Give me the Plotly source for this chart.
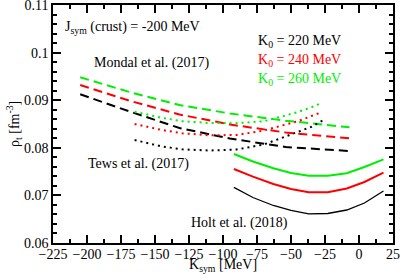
import plotly.graph_objects as go

# ---- data ----
k_mondal = [-205, -168, -132, -95, -54, -7]
mondal_220 = [0.09124, 0.08756, 0.08416, 0.08195, 0.08017, 0.07933]
mondal_240 = [0.09319, 0.08983, 0.08700, 0.08490, 0.08321, 0.08200]
mondal_260 = [0.09481, 0.09166, 0.08899, 0.08721, 0.08569, 0.08431]

k_tews = [-165, -145, -130, -110, -90, -70, -58, -45, -35, -28]
k_tews_220 = [-165, -145, -130, -110, -90, -70, -58, -45, -35, -26]
tews_220 = [0.08164, 0.08027, 0.07968, 0.07943, 0.07964, 0.08069, 0.08195, 0.08326, 0.08441, 0.08584]
tews_240 = [0.08500, 0.08374, 0.08305, 0.08263, 0.08269, 0.08363, 0.08458, 0.08557, 0.08668, 0.08742]
tews_260 = [0.08758, 0.08630, 0.08559, 0.08521, 0.08517, 0.08557, 0.08647, 0.08752, 0.08851, 0.08935]

k_holt = [-92, -78, -63, -50, -37, -23, -9, 4, 18]
holt_220 = [0.07170, 0.06956, 0.06788, 0.06683, 0.06613, 0.06620, 0.06693, 0.06840, 0.07092]
holt_240 = [0.07555, 0.07393, 0.07240, 0.07134, 0.07067, 0.07065, 0.07145, 0.07281, 0.07477]
holt_260 = [0.07870, 0.07712, 0.07569, 0.07471, 0.07414, 0.07414, 0.07464, 0.07597, 0.07758]

x_ticks = [-225, -200, -175, -150, -125, -100, -75, -50, -25, 0, 25]
y_ticks = [0.06, 0.07, 0.08, 0.09, 0.10, 0.11]
y_tick_text = ["0.06", "0.07", "0.08", "0.09", "0.1", "0.11"]

BLACK = "#000000"
RED = "#ff0000"
GREEN = "#00ee00"
FONT = "'Liberation Serif', 'Times New Roman', Times, 'DejaVu Serif', serif"

fig = go.Figure()

def add(x, y, color, dash, width):
    fig.add_trace(go.Scatter(x=x, y=y, mode="lines",
                             line=dict(color=color, dash=dash, width=width),
                             showlegend=False, hoverinfo="skip"))

add(k_mondal, mondal_220, BLACK, "9px,5px", 2)
add(k_mondal, mondal_240, RED, "9px,5px", 2)
add(k_mondal, mondal_260, GREEN, "9px,5px", 2)
add(k_tews_220, tews_220, BLACK, "2px,4px", 2)
add(k_tews, tews_240, RED, "2px,4px", 2)
add(k_tews, tews_260, GREEN, "2px,4px", 2)
add(k_holt, holt_220, BLACK, "solid", 1.3)
add(k_holt, holt_240, RED, "solid", 2)
add(k_holt, holt_260, GREEN, "solid", 2)

def note(x, y, text, color=BLACK):
    fig.add_annotation(x=x, y=y, text=text, showarrow=False, xref="x", yref="y",
                       xanchor="left", yanchor="middle",
                       font=dict(family=FONT, size=14, color=color))

note(-217.6, 0.1053, "J<sub>sym</sub> (crust) = -200 MeV")
note(-196.3, 0.0979, "Mondal et al. (2017)")
note(-200.7, 0.0766, "Tews et al. (2017)")
note(-125.0, 0.0642, "Holt et al. (2018)")
note(-75.7, 0.1023, "K<sub>0</sub> = 220 MeV", BLACK)
note(-75.7, 0.0983, "K<sub>0</sub> = 240 MeV", RED)
note(-75.7, 0.0943, "K<sub>0</sub> = 260 MeV", GREEN)

# axis titles as annotations for exact placement
fig.add_annotation(x=0.5, y=0, xref="paper", yref="paper", xanchor="center", yanchor="top",
                   yshift=-12, showarrow=False, text="K<sub>sym</sub> [MeV]",
                   font=dict(family=FONT, size=14, color="black"))
fig.add_annotation(x=0, y=0.5, xref="paper", yref="paper", xanchor="center", yanchor="middle",
                   xshift=-39, showarrow=False, textangle=-90,
                   text="ρ<sub>t</sub> [fm<sup>-3</sup>]",
                   font=dict(family=FONT, size=14, color="black"))

axis_common = dict(showline=True, linecolor="black", linewidth=1.5, mirror="ticks",
                   ticks="inside", ticklen=8, tickwidth=1.5, tickcolor="black",
                   showgrid=False, zeroline=False, automargin=False,
                   ticklabeloverflow="allow",
                   tickfont=dict(family=FONT, size=14, color="black"))

fig.update_xaxes(range=[-225, 25], tickvals=x_ticks, ticklabelstandoff=-3,
                 minor=dict(dtick=12.5, tick0=-225, ticks="inside", ticklen=4,
                            tickwidth=1.5, tickcolor="black", showgrid=False),
                 **axis_common)
fig.update_yaxes(range=[0.06, 0.11], tickvals=y_ticks, ticktext=y_tick_text,
                 minor=dict(dtick=0.002, tick0=0.06, ticks="inside", ticklen=4,
                            tickwidth=1.5, tickcolor="black", showgrid=False),
                 **axis_common)

fig.update_layout(width=401, height=279,
                  margin=dict(l=53, r=8, t=5, b=36, autoexpand=False),
                  paper_bgcolor="white", plot_bgcolor="white",
                  showlegend=False)

fig.write_html("out.html", config={"displayModeBar": False},
               post_script="document.body.style.margin='0';document.body.style.padding='0';document.body.style.overflow='hidden';")
